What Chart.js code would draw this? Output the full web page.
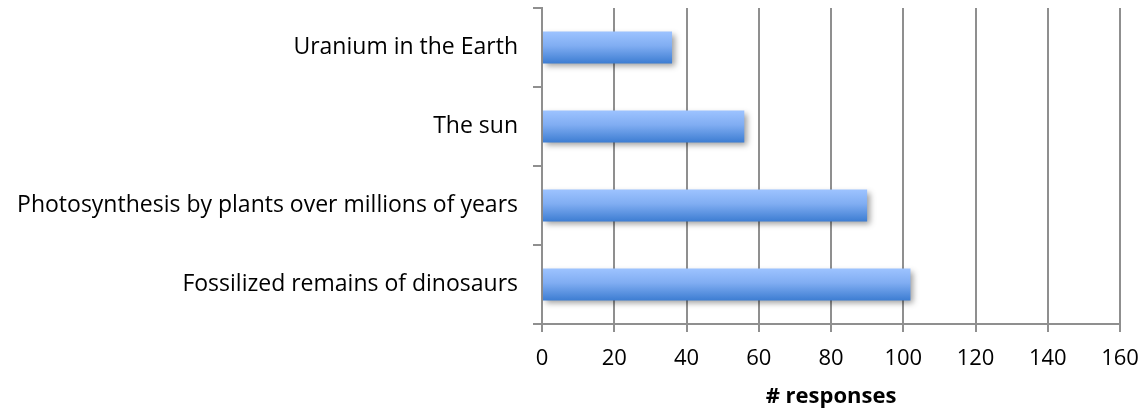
<!DOCTYPE html>
<html>
<head>
<meta charset="utf-8">
<script src="https://cdn.jsdelivr.net/npm/chart.js@4/dist/chart.umd.min.js"></script>
<style>
  html, body { margin: 0; padding: 0; background: #fff; }
  #wrap { width: 1145px; height: 415px; }
</style>
</head>
<body>
<div id="wrap"><canvas id="chart" width="1145" height="415"></canvas></div>
<script>
// Sources of energy named by respondents
const categories = [
  'Uranium in the Earth',
  'The sun',
  'Photosynthesis by plants over millions of years',
  'Fossilized remains of dinosaurs'
];
const responses = [36, 56, 90, 102];
const axisMin = 0;
const axisMax = 160;
const axisStep = 20;
const axisTitle = '# responses';

const FONT = '"Open Sans", Lato, sans-serif';
const GRID = '#8f8f8f';

// vertical gradient for each bar, spanning that bar's own height
function barFill(ctx) {
  const chart = ctx.chart;
  const ys = chart.scales.y;
  if (!chart.chartArea || !ys) return '#6f9ee6';
  const c = ys.getPixelForValue(ctx.dataIndex);
  const band = ys.height / categories.length;
  const h = band * 0.405;
  const g = chart.ctx.createLinearGradient(0, c - h / 2, 0, c + h / 2);
  g.addColorStop(0, '#9dc3ff');
  g.addColorStop(0.45, '#80adf2');
  g.addColorStop(1, '#3d7dd2');
  return g;
}

// soft drop shadow under the bars
const barShadow = {
  id: 'barShadow',
  beforeDatasetsDraw(chart) {
    const c = chart.ctx;
    c.save();
    c.shadowColor = 'rgba(0,0,0,0.38)';
    c.shadowBlur = 6;
    c.shadowOffsetX = 3;
    c.shadowOffsetY = 3;
  },
  afterDatasetsDraw(chart) {
    chart.ctx.restore();
  }
};

new Chart(document.getElementById('chart'), {
  type: 'bar',
  data: {
    labels: categories,
    datasets: [{
      data: responses,
      backgroundColor: barFill,
      borderWidth: 0,
      categoryPercentage: 1,
      barPercentage: 0.405
    }]
  },
  plugins: [barShadow],
  options: {
    indexAxis: 'y',
    responsive: false,
    animation: false,
    events: [],
    layout: { padding: { top: 8, right: 25, left: 0, bottom: 0 } },
    plugins: {
      legend: { display: false },
      tooltip: { enabled: false }
    },
    scales: {
      x: {
        min: axisMin,
        max: axisMax,
        ticks: {
          stepSize: axisStep,
          color: '#000',
          padding: 14,
          font: { family: FONT, size: 22 }
        },
        grid: {
          color: GRID,
          lineWidth: 2,
          tickLength: 8,
          drawOnChartArea: true
        },
        border: { color: GRID, width: 2 },
        title: {
          display: true,
          text: axisTitle,
          color: '#000',
          padding: { top: 0, bottom: 5 },
          font: { family: FONT, size: 22, weight: 'bold' }
        },
        afterFit(scale) {
          scale.height = 91;
          scale.paddingLeft = 0;
          scale.paddingRight = 0;
        }
      },
      y: {
        ticks: {
          color: '#000',
          padding: 15,
          font: { family: FONT, size: 23 }
        },
        grid: {
          offset: true,
          color: GRID,
          lineWidth: 2,
          tickLength: 9,
          drawOnChartArea: false
        },
        border: { color: GRID, width: 2 },
        afterFit(scale) {
          scale.width = 542;
          scale.paddingTop = 0;
          scale.paddingBottom = 0;
        }
      }
    }
  }
});
</script>
</body>
</html>
